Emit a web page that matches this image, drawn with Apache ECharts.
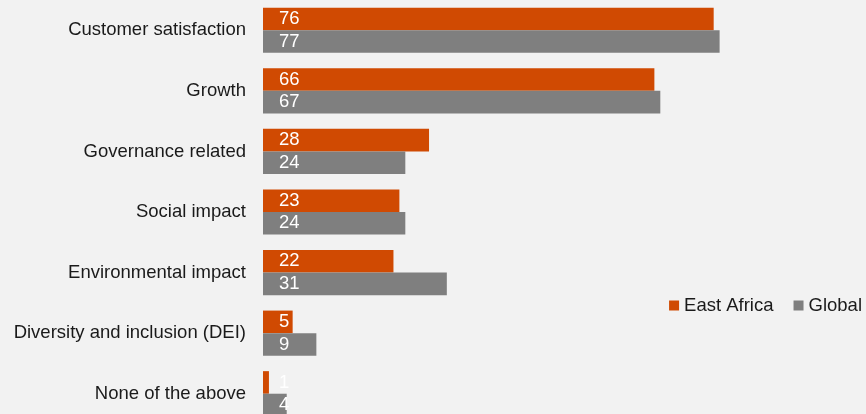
<!DOCTYPE html>
<html>
<head>
<meta charset="utf-8">
<script src="https://cdn.jsdelivr.net/npm/echarts@6/dist/echarts.min.js"></script>
<style>
  html, body { margin: 0; padding: 0; background: #f2f2f2; overflow: hidden; }
  #main { width: 866px; height: 424px; }
</style>
</head>
<body>
<div id="main"></div>
<script>
var categories = [
  'Customer satisfaction',
  'Growth',
  'Governance related',
  'Social impact',
  'Environmental impact',
  'Diversity and inclusion (DEI)',
  'None of the above'
];
var eastAfrica = [76, 66, 28, 23, 22, 5, 1];
var globalVals = [77, 67, 24, 24, 31, 9, 4];

// the original is cropped at the bottom, so the chart is drawn a bit taller than the window
var myChart = echarts.init(document.getElementById('main'));
var barLabel = {
  show: true,
  position: 'insideLeft',
  distance: 16,
  color: '#ffffff',
  fontFamily: 'Liberation Sans',
  fontSize: 18.5
};
var option = {
  backgroundColor: '#f2f2f2',
  animation: false,
  textStyle: { fontFamily: 'Liberation Sans' },
  legend: {
    right: 0,
    top: 291,
    padding: [5, 4, 5, 5],
    itemWidth: 10,
    itemHeight: 10,
    itemGap: 20,
    icon: 'rect',
    textStyle: { fontSize: 18.5, color: '#1a1a1a', fontFamily: 'Liberation Sans' },
    data: ['East Africa', 'Global']
  },
  grid: {
    left: 263,
    top: 0,
    width: 593,
    bottom: 0,
    containLabel: false
  },
  xAxis: {
    type: 'value',
    min: 0,
    max: 100,
    show: false
  },
  yAxis: {
    type: 'category',
    inverse: true,
    data: categories,
    axisLine: { show: false },
    axisTick: { show: false },
    axisLabel: {
      margin: 17,
      fontSize: 18.5,
      color: '#1a1a1a',
      fontFamily: 'Liberation Sans'
    }
  },
  series: [
    {
      name: 'East Africa',
      type: 'bar',
      data: eastAfrica,
      barGap: '0%',
      barCategoryGap: '25.5%',
      itemStyle: { color: '#d04a02' },
      label: barLabel
    },
    {
      name: 'Global',
      type: 'bar',
      data: globalVals,
      itemStyle: { color: '#7f7f7f' },
      label: barLabel
    }
  ]
};
myChart.setOption(option);
</script>
</body>
</html>
